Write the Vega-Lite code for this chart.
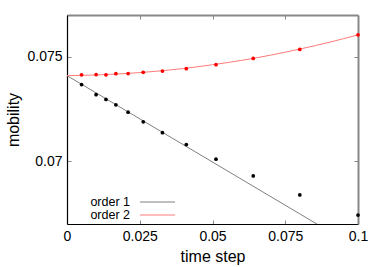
{
  "$schema": "https://vega.github.io/schema/vega-lite/v6.json",
  "autosize": "none",
  "width": 291,
  "height": 209,
  "padding": {"left": 67, "top": 15, "right": 24, "bottom": 43},
  "background": "white",
  "config": {
    "font": "Liberation Sans",
    "view": {"stroke": null}
  },
  "data": {
    "values": [
      {"kind": "fit", "series": "order 1", "x": 0, "y": 0.0741},
      {"kind": "fit", "series": "order 1", "x": 0.1, "y": 0.06583},
      {"kind": "fit", "series": "order 2", "x": 0, "y": 0.0741},
      {"kind": "fit", "series": "order 2", "x": 0.01, "y": 0.07413},
      {"kind": "fit", "series": "order 2", "x": 0.02, "y": 0.0742},
      {"kind": "fit", "series": "order 2", "x": 0.03, "y": 0.0743},
      {"kind": "fit", "series": "order 2", "x": 0.04, "y": 0.07444},
      {"kind": "fit", "series": "order 2", "x": 0.05, "y": 0.07462},
      {"kind": "fit", "series": "order 2", "x": 0.06, "y": 0.07483},
      {"kind": "fit", "series": "order 2", "x": 0.07, "y": 0.07508},
      {"kind": "fit", "series": "order 2", "x": 0.08, "y": 0.07537},
      {"kind": "fit", "series": "order 2", "x": 0.09, "y": 0.07569},
      {"kind": "fit", "series": "order 2", "x": 0.1, "y": 0.07605},
      {"kind": "pt", "series": "order 1", "x": 0.005, "y": 0.07367},
      {"kind": "pt", "series": "order 1", "x": 0.01, "y": 0.07319},
      {"kind": "pt", "series": "order 1", "x": 0.0134, "y": 0.07296},
      {"kind": "pt", "series": "order 1", "x": 0.0168, "y": 0.0727},
      {"kind": "pt", "series": "order 1", "x": 0.021, "y": 0.07235},
      {"kind": "pt", "series": "order 1", "x": 0.0262, "y": 0.07189},
      {"kind": "pt", "series": "order 1", "x": 0.0328, "y": 0.07137},
      {"kind": "pt", "series": "order 1", "x": 0.041, "y": 0.0708},
      {"kind": "pt", "series": "order 1", "x": 0.0512, "y": 0.0701},
      {"kind": "pt", "series": "order 1", "x": 0.064, "y": 0.0693},
      {"kind": "pt", "series": "order 1", "x": 0.08, "y": 0.06839},
      {"kind": "pt", "series": "order 1", "x": 0.1, "y": 0.06743},
      {"kind": "pt", "series": "order 2", "x": 0.005, "y": 0.07414},
      {"kind": "pt", "series": "order 2", "x": 0.01, "y": 0.07415},
      {"kind": "pt", "series": "order 2", "x": 0.0134, "y": 0.07414},
      {"kind": "pt", "series": "order 2", "x": 0.0168, "y": 0.07419},
      {"kind": "pt", "series": "order 2", "x": 0.021, "y": 0.0742},
      {"kind": "pt", "series": "order 2", "x": 0.0262, "y": 0.07426},
      {"kind": "pt", "series": "order 2", "x": 0.0328, "y": 0.07432},
      {"kind": "pt", "series": "order 2", "x": 0.041, "y": 0.07443},
      {"kind": "pt", "series": "order 2", "x": 0.0512, "y": 0.07462},
      {"kind": "pt", "series": "order 2", "x": 0.064, "y": 0.07492},
      {"kind": "pt", "series": "order 2", "x": 0.08, "y": 0.07535},
      {"kind": "pt", "series": "order 2", "x": 0.1, "y": 0.07605}
    ]
  },
  "layer": [
    {
      "transform": [{"filter": "datum.kind === 'fit'"}],
      "mark": {"type": "line", "clip": true, "strokeWidth": 1, "interpolate": "monotone"},
      "encoding": {
        "x": {
          "field": "x", "type": "quantitative",
          "scale": {"domain": [0, 0.1], "nice": false, "zero": false},
          "axis": {
            "orient": "bottom", "values": [0, 0.025, 0.05, 0.075, 0.1],
            "labelExpr": "'' + datum.value", "grid": false,
            "domainColor": "#000", "domainWidth": 1.2,
            "tickColor": "#888", "tickSize": -4, "tickWidth": 1,
            "labelPadding": 9, "labelFontSize": 14, "labelColor": "#000",
            "labelFlush": false,
            "title": "time step", "titleFontSize": 16, "titleFontWeight": "normal",
            "titleColor": "#000", "titlePadding": 5
          }
        },
        "y": {
          "field": "y", "type": "quantitative",
          "scale": {"domain": [0.067, 0.077], "nice": false, "zero": false},
          "axis": {
            "orient": "left", "values": [0.07, 0.075],
            "labelExpr": "'' + datum.value", "grid": false,
            "domainColor": "#000", "domainWidth": 1.2,
            "tickColor": "#888", "tickSize": -4, "tickWidth": 1,
            "labelPadding": 9, "labelFontSize": 14, "labelColor": "#000",
            "title": "mobility", "titleFontSize": 16, "titleFontWeight": "normal",
            "titleColor": "#000", "titlePadding": 5
          }
        },
        "stroke": {
          "field": "series", "type": "nominal",
          "scale": {"domain": ["order 1", "order 2"], "range": ["#808080", "#ff7a7a"]},
          "legend": {
            "title": null, "orient": "none", "legendX": 84, "legendY": 180.5,
            "symbolType": "M-2.92,0H2.92", "symbolSize": 144, "symbolStrokeWidth": 1,
            "labelFontSize": 12.5, "labelColor": "#000",
            "labelAlign": "right", "labelOffset": -34, "rowPadding": -1,
            "symbolOffset": 0, "padding": 0
          }
        },
        "detail": {"field": "series"}
      }
    },
    {
      "transform": [{"filter": "datum.kind === 'pt'"}],
      "mark": {"type": "point", "filled": true, "shape": "circle", "size": 14, "opacity": 1},
      "encoding": {
        "x": {
          "field": "x", "type": "quantitative",
          "axis": {
            "orient": "top", "values": [0, 0.025, 0.05, 0.075, 0.1],
            "labels": false, "title": null, "grid": false,
            "domainColor": "#888", "domainWidth": 2,
            "tickColor": "#888", "tickSize": -4, "tickWidth": 1
          }
        },
        "y": {
          "field": "y", "type": "quantitative",
          "axis": {
            "orient": "right", "values": [0.07, 0.075],
            "labels": false, "title": null, "grid": false,
            "domainColor": "#888", "domainWidth": 2,
            "tickColor": "#888", "tickSize": -4, "tickWidth": 1
          }
        },
        "fill": {
          "field": "series", "type": "nominal",
          "scale": {"domain": ["order 1", "order 2"], "range": ["#000000", "#ff0000"]},
          "legend": null
        }
      }
    }
  ],
  "resolve": {"axis": {"x": "independent", "y": "independent"}}
}
